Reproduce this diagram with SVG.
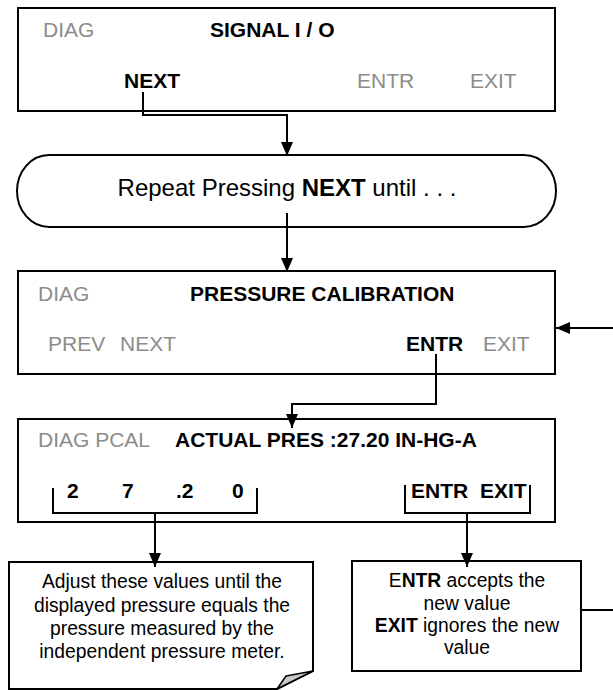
<svg xmlns="http://www.w3.org/2000/svg" width="613" height="690" viewBox="0 0 613 690">
<style>
text{font-family:"Liberation Sans",Arial,sans-serif;}
.g{fill:#8c8c8c;font-size:21px;}
.b{fill:#000;font-size:21px;font-weight:bold;}
.box{fill:#fff;stroke:#000;stroke-width:2;}
.ln{fill:none;stroke:#000;stroke-width:2;}
.n{font-size:19.3px;fill:#000;text-anchor:middle;}
</style>
<defs>
<marker id="ah" viewBox="0 0 14 12" refX="14" refY="6" markerWidth="14" markerHeight="12" markerUnits="userSpaceOnUse" orient="auto">
<path d="M0,0 L14,6 L0,12 Z" fill="#000"/>
</marker>
</defs>
<g id="box1">
<rect class="box" x="18" y="8" width="537" height="103"/>
<text class="g" x="43" y="37">DIAG</text>
<text class="b" x="210" y="37">SIGNAL I / O</text>
<text class="b" x="124" y="88">NEXT</text>
<text class="g" x="357" y="88">ENTR</text>
<text class="g" x="470" y="88">EXIT</text>
</g>
<g id="oval">
<rect class="box" x="17" y="155" width="539" height="72" rx="32" ry="36"/>
<text x="287" y="196" font-size="24" text-anchor="middle">Repeat Pressing <tspan font-weight="bold">NEXT</tspan> until . . .</text>
</g>
<g id="box2">
<rect class="box" x="18" y="271" width="537" height="103"/>
<text class="g" x="38" y="301">DIAG</text>
<text class="b" x="190" y="301">PRESSURE CALIBRATION</text>
<text class="g" x="48" y="351">PREV</text>
<text class="g" x="120" y="351">NEXT</text>
<text class="b" x="406" y="351">ENTR</text>
<text class="g" x="483" y="351">EXIT</text>
</g>
<g id="box3">
<rect class="box" x="18" y="419" width="537" height="103"/>
<text class="g" x="38" y="447">DIAG PCAL</text>
<text class="b" x="175" y="447">ACTUAL PRES :27.20 IN-HG-A</text>
<text class="b" x="67" y="498">2</text>
<text class="b" x="122" y="498">7</text>
<text class="b" x="176" y="498">.2</text>
<text class="b" x="232" y="498">0</text>
<text class="b" x="411" y="498">ENTR</text>
<text class="b" x="480" y="498">EXIT</text>
</g>
<g id="note1">
<path class="box" d="M9,562 H313 V671 L277,689 H9 Z"/>
<path d="M313,671 L277,689 L286,676 Z" fill="#c8c8c8" stroke="#000" stroke-width="1.5" stroke-linejoin="round"/>
<text class="n" x="162" y="588">Adjust these values until the</text>
<text class="n" x="162" y="612">displayed pressure equals the</text>
<text class="n" x="162" y="635">pressure measured by the</text>
<text class="n" x="162" y="658">independent pressure meter.</text>
</g>
<g id="note2">
<rect class="box" x="352" y="561" width="229" height="110"/>
<text class="n" x="467" y="587">E<tspan font-weight="bold">NTR</tspan> accepts the</text>
<text class="n" x="467" y="610">new value</text>
<text class="n" x="467" y="632"><tspan font-weight="bold">EXIT</tspan> ignores the new</text>
<text class="n" x="467" y="654">value</text>
</g>
<g id="connectors">
<path class="ln" d="M143,92 V115 H287 V156" marker-end="url(#ah)"/>
<path class="ln" d="M287,213 V272" marker-end="url(#ah)"/>
<path class="ln" d="M613,328 H556" marker-end="url(#ah)"/>
<path class="ln" d="M436,354 V404 H292 V428" marker-end="url(#ah)"/>
<path class="ln" d="M53,488 V513 H257 V488"/>
<path class="ln" d="M155,513 V567" marker-end="url(#ah)"/>
<path class="ln" d="M405,485 V513 H530 V485"/>
<path class="ln" d="M467,513 V567" marker-end="url(#ah)"/>
<path class="ln" d="M581,610 H613"/>
</g>
</svg>
